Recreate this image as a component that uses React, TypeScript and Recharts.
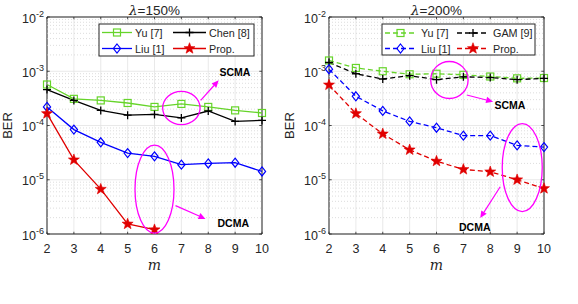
import React from 'react';
import { LineChart, Line, XAxis, YAxis, CartesianGrid, ReferenceLine, ReferenceArea, ReferenceDot } from 'recharts';

const mValues = [2, 3, 4, 5, 6, 7, 8, 9, 10];
// lambda = 150%
const yuL = [5.7e-4, 3.1e-4, 2.9e-4, 2.6e-4, 2.2e-4, 2.5e-4, 2.2e-4, 1.9e-4, 1.7e-4];
const chenL = [4.6e-4, 2.9e-4, 1.9e-4, 1.55e-4, 1.6e-4, 1.38e-4, 1.85e-4, 1.19e-4, 1.24e-4];
const liuL = [2.2e-4, 8.4e-5, 4.9e-5, 3.1e-5, 2.7e-5, 1.9e-5, 2.0e-5, 2.06e-5, 1.42e-5];
const propL = [1.66e-4, 2.33e-5, 6.7e-6, 1.53e-6, 1.2e-6, null, null, null, null];
// lambda = 200%
const yuR = [1.58e-3, 1.15e-3, 1.0e-3, 8.8e-4, 9.0e-4, 8.6e-4, 8.0e-4, 7.4e-4, 7.5e-4];
const gamR = [1.45e-3, 9.0e-4, 7.2e-4, 8.3e-4, 7.0e-4, 7.9e-4, 7.65e-4, 7.0e-4, 7.4e-4];
const liuR = [1.09e-3, 3.46e-4, 1.86e-4, 1.19e-4, 9.1e-5, 6.5e-5, 6.5e-5, 4.3e-5, 4.0e-5];
const propR = [5.6e-4, 1.66e-4, 7.0e-5, 3.56e-5, 2.2e-5, 1.55e-5, 1.4e-5, 1.0e-5, 6.9e-6];

const yTicks = [1e-6, 1e-5, 1e-4, 1e-3, 1e-2];
const yTickExps = ['-6', '-5', '-4', '-3', '-2'];
const minorTicks: number[] = [];
[1e-6, 1e-5, 1e-4, 1e-3].forEach((d) => {
  [2, 3, 4, 5, 6, 7, 8, 9].forEach((k) => minorTicks.push(k * d));
});

const GREEN = '#66d42a';
const BLUE = '#0000ff';
const RED = '#e00000';
const BLACK = '#000000';
const MAGENTA = '#ff00ff';
const AX = '#262626';
const SANS = 'Liberation Sans, Arial, Helvetica, sans-serif';

const Square = ({ cx, cy, c }: any) => <rect x={cx - 3.5} y={cy - 3.5} width={7} height={7} fill="none" stroke={c} strokeWidth={1.2} />;
const Diamond = ({ cx, cy, c }: any) => (
  <polygon points={`${cx},${cy - 4.5} ${cx + 3.6},${cy} ${cx},${cy + 4.5} ${cx - 3.6},${cy}`} fill="none" stroke={c} strokeWidth={1.2} />
);
const Plus = ({ cx, cy, c }: any) => (
  <path d={`M${cx - 4},${cy}H${cx + 4}M${cx},${cy - 4}V${cy + 4}`} stroke={c} strokeWidth={1.3} />
);
const Star = ({ cx, cy, c }: any) => {
  const pts: string[] = [];
  for (let i = 0; i < 10; i++) {
    const r = i % 2 === 0 ? 5.8 : 2.4;
    const a = -Math.PI / 2 + (i * Math.PI) / 5;
    pts.push(`${cx + r * Math.cos(a)},${cy + r * Math.sin(a)}`);
  }
  return <polygon points={pts.join(' ')} fill={c} stroke={c} strokeWidth={0.6} />;
};

const markerDot = (Shape: any, c: string) => (p: any) => {
  if (p.cx == null || p.cy == null || p.value == null || Number.isNaN(p.cy)) return <g key={p.key ?? p.index} />;
  return <Shape key={p.key ?? p.index} cx={p.cx} cy={p.cy} c={c} />;
};

const YTick = (p: any) => {
  const idx = yTicks.findIndex((t) => Math.abs(t - p.payload.value) / t < 1e-6);
  const exp = idx >= 0 ? yTickExps[idx] : '';
  return (
    <text x={p.x - 3} y={p.y + 5.5} textAnchor="end" fill={AX} fontFamily={SANS} fontSize={12.5}>
      <tspan>10</tspan>
      <tspan dy={-6} fontSize={9}>{exp}</tspan>
    </text>
  );
};

const XTick = (p: any) => (
  <text x={p.x} y={p.y + 18.5} textAnchor="middle" fill={AX} fontFamily={SANS} fontSize={12.5}>
    {p.payload.value}
  </text>
);

const Arrow = ({ x1, y1, x2, y2 }: any) => {
  const dx = x2 - x1;
  const dy = y2 - y1;
  const L = Math.sqrt(dx * dx + dy * dy);
  const ux = dx / L;
  const uy = dy / L;
  const hl = 7;
  const hw = 3.2;
  const bx = x2 - ux * hl;
  const by = y2 - uy * hl;
  return (
    <g>
      <line x1={x1} y1={y1} x2={bx} y2={by} stroke={MAGENTA} strokeWidth={1.2} />
      <polygon points={`${x2},${y2} ${bx - uy * hw},${by + ux * hw} ${bx + uy * hw},${by - ux * hw}`} fill={MAGENTA} />
    </g>
  );
};

const annotShape = (a: any) => (p: any) => {
  const { cx, cy } = p;
  return (
    <g>
      <ellipse cx={cx} cy={cy} rx={a.rx} ry={a.ry} fill="none" stroke={MAGENTA} strokeWidth={1.3} />
      <Arrow x1={cx + a.arrow[0]} y1={cy + a.arrow[1]} x2={cx + a.arrow[2]} y2={cy + a.arrow[3]} />
      <text x={cx + a.tx} y={cy + a.ty} textAnchor={a.anchor} fontFamily={SANS} fontWeight="bold" fontSize={10.5} fill="#000">
        {a.label}
      </text>
    </g>
  );
};

const annotL = [
  { x: 7, y: 2.1e-4, rx: 18.7, ry: 16.7, arrow: [19.3, -7.7, 37.3, -27.7], label: 'SCMA', tx: 38, ty: -32, anchor: 'start' },
  { x: 6, y: 6.7e-6, rx: 19.5, ry: 44, arrow: [21, 16.4, 51, 29.7], label: 'DCMA', tx: 63, ty: 37.5, anchor: 'start' },
];
const annotR = [
  { x: 6.48, y: 6.9e-4, rx: 18.7, ry: 18.5, arrow: [17.4, 15, 43.7, 21.7], label: 'SCMA', tx: 45, ty: 29, anchor: 'start' },
  { x: 9.19, y: 1.68e-5, rx: 20, ry: 44, arrow: [-22, 19.2, -42, 50.5], label: 'DCMA', tx: -47.5, ty: 63.5, anchor: 'middle' },
];

type SeriesDef = { key: string; name: string; values: (number | null)[]; color: string; shape: any };

const seriesL: SeriesDef[] = [
  { key: 'yu', name: 'Yu [7]', values: yuL, color: GREEN, shape: Square },
  { key: 'chen', name: 'Chen [8]', values: chenL, color: BLACK, shape: Plus },
  { key: 'liu', name: 'Liu [1]', values: liuL, color: BLUE, shape: Diamond },
  { key: 'prop', name: 'Prop.', values: propL, color: RED, shape: Star },
];
const seriesR: SeriesDef[] = [
  { key: 'yu', name: 'Yu [7]', values: yuR, color: GREEN, shape: Square },
  { key: 'gam', name: 'GAM [9]', values: gamR, color: BLACK, shape: Plus },
  { key: 'liu', name: 'Liu [1]', values: liuR, color: BLUE, shape: Diamond },
  { key: 'prop', name: 'Prop.', values: propR, color: RED, shape: Star },
];

const Panel = ({ series, dashed, annots, title, leftPos, yAxisWidth, width, rightMargin }: any) => {
  const data = mValues.map((m, i) => {
    const row: any = { m };
    series.forEach((s: SeriesDef) => (row[s.key] = s.values[i]));
    return row;
  });
  const plotLeft = yAxisWidth;
  const plotRight = width - rightMargin;
  const midX = (plotLeft + plotRight) / 2;
  return (
    <div style={{ position: 'absolute', left: leftPos, top: 0, width, height: 304 }}>
      <LineChart width={width} height={304} data={data} margin={{ top: 17, right: rightMargin, left: 0, bottom: 0 }}>
        <CartesianGrid stroke="#e3e3e3" strokeWidth={0.8} />
        {minorTicks.map((v) => (
          <ReferenceLine key={'mg' + v} y={v} stroke="#cfcfcf" strokeWidth={0.7} strokeDasharray="1 2" />
        ))}
        <XAxis
          dataKey="m"
          type="number"
          domain={[2, 10]}
          ticks={mValues}
          height={70}
          tickSize={0}
          tickMargin={0}
          axisLine={false}
          tick={<XTick />}
          label={(props: any) => {
            const vb = props.viewBox;
            return (
              <text x={vb.x + vb.width / 2} y={vb.y + 36} textAnchor="middle" fontFamily="DejaVu Serif, Liberation Serif, serif" fontStyle="italic" fontSize={14} fill={AX}>
                m
              </text>
            );
          }}
        />
        <YAxis
          type="number"
          scale="log"
          domain={[1e-6, 1e-2]}
          allowDataOverflow
          ticks={yTicks}
          width={yAxisWidth}
          tickSize={0}
          tickMargin={0}
          axisLine={false}
          tick={<YTick />}
          label={(props: any) => {
            const vb = props.viewBox;
            const x = plotLeft - 35;
            const y = vb.y + vb.height / 2;
            return (
              <text x={x} y={y} transform={`rotate(-90 ${x} ${y})`} textAnchor="middle" fontFamily={SANS} fontSize={13} fill={AX}>
                BER
              </text>
            );
          }}
        />
        {mValues.map((m) => (
          <ReferenceLine key={'xb' + m} segment={[{ x: m, y: 1e-6 }, { x: m, y: 1.1e-6 }]} stroke={AX} strokeWidth={0.8} />
        ))}
        {mValues.map((m) => (
          <ReferenceLine key={'xt' + m} segment={[{ x: m, y: 1e-2 }, { x: m, y: 0.0091 }]} stroke={AX} strokeWidth={0.8} />
        ))}
        {yTicks.map((v) => (
          <ReferenceLine key={'yl' + v} segment={[{ x: 2, y: v }, { x: 2.1, y: v }]} stroke={AX} strokeWidth={0.8} />
        ))}
        {yTicks.map((v) => (
          <ReferenceLine key={'yr' + v} segment={[{ x: 9.9, y: v }, { x: 10, y: v }]} stroke={AX} strokeWidth={0.8} />
        ))}
        {series.map((s: SeriesDef) => (
          <Line
            key={s.key}
            dataKey={s.key}
            name={s.name}
            stroke={s.color}
            strokeWidth={1.3}
            strokeDasharray={dashed ? '5 3' : undefined}
            dot={markerDot(s.shape, s.color)}
            activeDot={false}
            isAnimationActive={false}
            connectNulls={false}
            type="linear"
          />
        ))}
        <ReferenceArea x1={2} x2={10} y1={1e-6} y2={1e-2} fill="none" stroke={AX} strokeWidth={1} ifOverflow="visible" />
        {annots.map((a: any, i: number) => (
          <ReferenceDot key={'an' + i} x={a.x} y={a.y} r={0} ifOverflow="visible" shape={annotShape(a)} />
        ))}
      </LineChart>
      <svg width={width} height={20} style={{ position: 'absolute', left: 0, top: 0 }}>
        <text x={midX} y={15} textAnchor="middle" fontFamily={SANS} fontSize={13.5} fill={AX}>
          <tspan fontFamily="DejaVu Serif, Liberation Serif, serif" fontStyle="italic">λ</tspan>
          <tspan>={title}</tspan>
        </text>
      </svg>
    </div>
  );
};

const LegendBox = ({ series, dashed, box, cols, rows }: any) => {
  return (
    <svg width={578} height={80} style={{ position: 'absolute', left: 0, top: 0 }}>
      <rect x={box[0]} y={box[1]} width={box[2] - box[0]} height={box[3] - box[1]} fill="#fff" stroke={AX} strokeWidth={1} />
      {series.map((s: SeriesDef, i: number) => {
        const col = cols[i % 2];
        const y = rows[Math.floor(i / 2)];
        const Shape = s.shape;
        return (
          <g key={s.key}>
            <line x1={col.l1} x2={col.l2} y1={y} y2={y} stroke={s.color} strokeWidth={1.3} strokeDasharray={dashed ? '5 3' : undefined} />
            <Shape cx={(col.l1 + col.l2) / 2} cy={y} c={s.color} />
            <text x={col.t} y={y + 4} fontFamily={SANS} fontSize={10.8} fill={AX}>
              {s.name}
            </text>
          </g>
        );
      })}
    </svg>
  );
};

export default function App() {
  return (
    <div style={{ position: 'absolute', left: 0, top: 0, width: 578, height: 304, background: '#fff', overflow: 'hidden' }}>
      <Panel series={seriesL} dashed={false} annots={annotL} title="150%" leftPos={0} yAxisWidth={47} width={290} rightMargin={28} />
      <Panel series={seriesR} dashed={true} annots={annotR} title="200%" leftPos={278} yAxisWidth={51} width={300} rightMargin={34} />
      <LegendBox
        series={seriesL}
        dashed={false}
        box={[99, 24, 254, 56]}
        cols={[{ l1: 102, l2: 132, t: 135 }, { l1: 173, l2: 206, t: 209 }]}
        rows={[32.5, 48.5]}
      />
      <LegendBox
        series={seriesR}
        dashed={true}
        box={[382, 24, 535, 55]}
        cols={[{ l1: 385, l2: 416, t: 421 }, { l1: 457, l2: 489, t: 493 }]}
        rows={[33, 48.5]}
      />
    </div>
  );
}
